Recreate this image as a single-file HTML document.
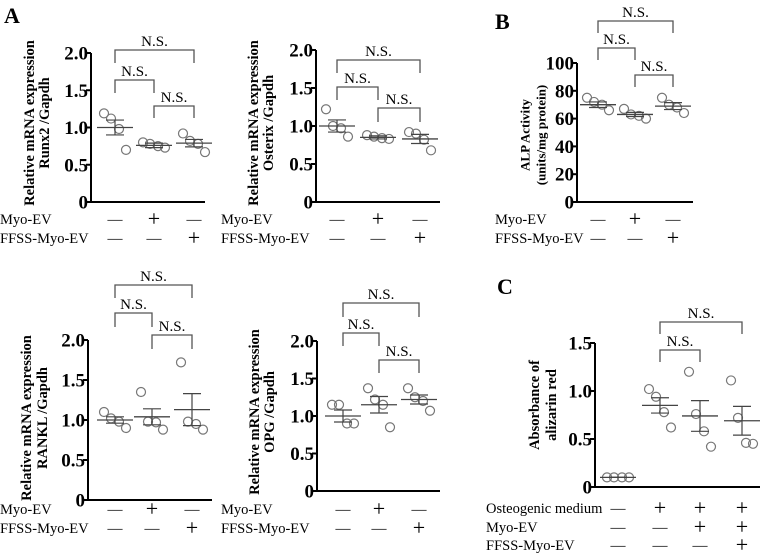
<!DOCTYPE html>
<html><head><meta charset="utf-8"><style>
body{margin:0;background:#fff;}
svg{display:block;font-family:"Liberation Serif",serif;}
</style></head><body>
<svg id="fig" width="762" height="553" viewBox="0 0 762 553"></svg>
<script>
// ---- data ----
const runx2Groups = ["g1","g2","g3"];
const runx2Points = [[1.19,1.12,0.98,0.70],[0.80,0.78,0.75,0.73],[0.92,0.82,0.78,0.67]];
const runx2Means = [1.0,0.76,0.79];
const runx2Sem = [0.1,0.03,0.05];
const osterixPoints = [[1.22,1.0,0.97,0.86],[0.88,0.86,0.84,0.83],[0.92,0.90,0.82,0.68]];
const osterixMeans = [1.0,0.85,0.83];
const osterixSem = [0.08,0.02,0.06];
const alpPoints = [[75,72,70,66],[67,63,62,60],[75,70,68,64]];
const alpMeans = [70,63,69];
const alpSem = [2,1.5,2.5];
const ranklPoints = [[1.1,1.02,0.98,0.9],[1.35,0.98,0.97,0.88],[1.72,0.98,0.95,0.88]];
const ranklMeans = [1.0,1.04,1.13];
const ranklSem = [0.04,0.1,0.2];
const opgPoints = [[1.15,1.15,0.9,0.9],[1.37,1.22,1.15,0.85],[1.37,1.25,1.2,1.07]];
const opgMeans = [1.0,1.15,1.22];
const opgSem = [0.08,0.11,0.06];
const alizPoints = [[0.1,0.1,0.1,0.1],[1.02,0.94,0.78,0.62],[1.2,0.76,0.58,0.42],[1.11,0.72,0.46,0.45]];
const alizMeans = [0.1,0.85,0.74,0.69];
const alizSem = [0.0,0.08,0.16,0.15];
const ticksRel = ["0","0.5","1.0","1.5","2.0"];
const ticksRelVals = [0,0.5,1.0,1.5,2.0];
const ticksAlp = ["0","20","40","60","80","100"];
const ticksAlpVals = [0,20,40,60,80,100];
const ticksAliz = ["0","0.5","1.0","1.5"];
const ticksAlizVals = [0,0.5,1.0,1.5];
const rowsA = [["Myo-EV",["—","+","—"]],["FFSS-Myo-EV",["—","—","+"]]];
const rowsC = [["Osteogenic medium",["—","+","+","+"]],["Myo-EV",["—","—","+","+"]],["FFSS-Myo-EV",["—","—","—","+"]]];

const NS="http://www.w3.org/2000/svg";
const svg=document.getElementById('fig');
function mk(tag,attrs,parent,text){const e=document.createElementNS(NS,tag);for(const k in attrs)e.setAttribute(k,attrs[k]);if(text!==undefined)e.textContent=text;(parent||svg).appendChild(e);return e;}
const jit=[-11,-4,4,11];

function panel(cfg){
  const g=mk('g',{});
  
  
  const ys=v=>cfg.y0-(v-cfg.vmin)/(cfg.vmax-cfg.vmin)*(cfg.y0-cfg.yTop);
  const xs=i=>cfg.gx[i];
  const ax=mk('line',{x1:cfg.ax,y1:cfg.yTop,x2:cfg.ax,y2:cfg.y0+1,stroke:'#000','stroke-width':2},g);
  
  const bx=mk('line',{x1:cfg.ax-1,y1:cfg.y0,x2:cfg.xEnd,y2:cfg.y0,stroke:'#000','stroke-width':2},g);
  
  cfg.tickVals.forEach((v,i)=>{
    mk('line',{x1:cfg.ax-5,y1:ys(v),x2:cfg.ax,y2:ys(v),stroke:'#000','stroke-width':2},g);
    const t=mk('text',{x:cfg.ax-3,y:ys(v)+6.5,'text-anchor':'end','font-size':19,'font-weight':'bold'},g,cfg.ticks[i]);
    
  });
  const cy=cfg.titleY;
  cfg.title.forEach((ln,i)=>{
    const t=mk('text',{x:cfg.tx[i],y:cy,'text-anchor':'middle','font-size':cfg.tfs||14.5,'font-weight':'bold',transform:`rotate(-90 ${cfg.tx[i]} ${cy})`,'dominant-baseline':'central'},g,ln);
    
  });
  cfg.points.forEach((arr,gi)=>{
    arr.forEach((v,j)=>{
      const c=mk('circle',{cx:xs(gi)+jit[j],cy:ys(v),r:4.5,fill:'none',stroke:'#777','stroke-width':1.2},g);
      
    });
    const m=cfg.means[gi],s=cfg.sem[gi],x=xs(gi);
    const ml=mk('line',{x1:x-18,y1:ys(m),x2:x+18,y2:ys(m),stroke:'#444','stroke-width':1.3},g);
    
    mk('line',{x1:x,y1:ys(m-s),x2:x,y2:ys(m+s),stroke:'#444','stroke-width':1.2},g);
    mk('line',{x1:x-9,y1:ys(m+s),x2:x+9,y2:ys(m+s),stroke:'#444','stroke-width':1.2},g);
    mk('line',{x1:x-9,y1:ys(m-s),x2:x+9,y2:ys(m-s),stroke:'#444','stroke-width':1.2},g);
  });
  cfg.br.forEach(b=>{
    const [a,c,y,leg]=b;
    const p=mk('path',{d:`M${xs(a)},${y+leg}V${y}H${xs(c)}V${y+leg}`,fill:'none',stroke:'#555','stroke-width':1.3},g);
    
    const t=mk('text',{x:(xs(a)+xs(c))/2,y:y-4,'text-anchor':'middle','font-size':15},g,'N.S.');
    
  });
  cfg.rows.forEach((r,ri)=>{
    const y=cfg.rowY[ri];
    const l=mk('text',{x:cfg.lx,y:y+5,'font-size':14.5},g,r[0]);
    
    r[1].forEach((s,i)=>{
      const t=mk('text',{x:xs(i),y:y+(s==='+'?7:5),'text-anchor':'middle','font-size':s==='+'?22:15},g,s);
      
    });
  });
}

panel({name:'runx2-panel',ax:91,y0:202,yTop:53,vmin:0,vmax:2,xEnd:205,gx:[115,154,194],ticks:ticksRel,tickVals:ticksRelVals,
  title:['Relative mRNA expression','Runx2 /Gapdh'],tx:[30,45],titleY:123,points:runx2Points,means:runx2Means,sem:runx2Sem,
  br:[[0,2,50,13],[0,1,80,13],[1,2,106,12]],rows:rowsA,rowY:[219,238],lx:0});
panel({name:'osterix-panel',ax:316,y0:202,yTop:50,vmin:0,vmax:2,xEnd:440,gx:[337,378,420],ticks:ticksRel,tickVals:ticksRelVals,
  title:['Relative mRNA expression','Osterix /Gapdh'],tx:[254,269],titleY:123,points:osterixPoints,means:osterixMeans,sem:osterixSem,
  br:[[0,2,60,13],[0,1,87,13],[1,2,108,14]],rows:rowsA,rowY:[219,238],lx:221});
panel({name:'alp-panel',ax:577,y0:202,yTop:63,vmin:0,vmax:100,xEnd:693,gx:[598,635,673],ticks:ticksAlp,tickVals:ticksAlpVals,
  title:['ALP Activity','(units/mg protein)'],tx:[525,541],titleY:135,tfs:13,points:alpPoints,means:alpMeans,sem:alpSem,
  br:[[0,2,21,12],[0,1,48,12],[1,2,75,12]],rows:rowsA,rowY:[219,238],lx:495});
panel({name:'rankl-panel',ax:88,y0:500,yTop:340,vmin:0,vmax:2,xEnd:212,gx:[115,152,192],ticks:ticksRel,tickVals:ticksRelVals,
  title:['Relative mRNA expression','RANKL /Gapdh'],tx:[27,43],titleY:418,points:ranklPoints,means:ranklMeans,sem:ranklSem,
  br:[[0,2,285,13],[0,1,313,14],[1,2,335,14]],rows:rowsA,rowY:[509,528],lx:0});
panel({name:'opg-panel',ax:317,y0:491,yTop:341,vmin:0,vmax:2,xEnd:440,gx:[343,379,419],ticks:ticksRel,tickVals:ticksRelVals,
  title:['Relative mRNA expression','OPG /Gapdh'],tx:[255,270],titleY:412,points:opgPoints,means:opgMeans,sem:opgSem,
  br:[[0,2,303,14],[0,1,333,13],[1,2,360,13]],rows:rowsA,rowY:[509,528],lx:221});
panel({name:'alizarin-panel',ax:595,y0:487,yTop:343,vmin:0,vmax:1.5,xEnd:760,gx:[618,660,700,742],ticks:ticksAliz,tickVals:ticksAlizVals,
  title:['Absorbance of','alizarin red'],tx:[535,552],titleY:405,points:alizPoints,means:alizMeans,sem:alizSem,
  br:[[1,3,322,12],[1,2,350,12]],rows:rowsC,rowY:[508,527,545],lx:486});

[['A',4,23,'panel-label-a'],['B',495,29,'panel-label-b'],['C',497,294,'panel-label-c']].forEach(p=>{
  const t=mk('text',{x:p[1],y:p[2],'font-size':22,'font-weight':'bold'},svg,p[0]);
  
  
});
</script>
</body></html>
